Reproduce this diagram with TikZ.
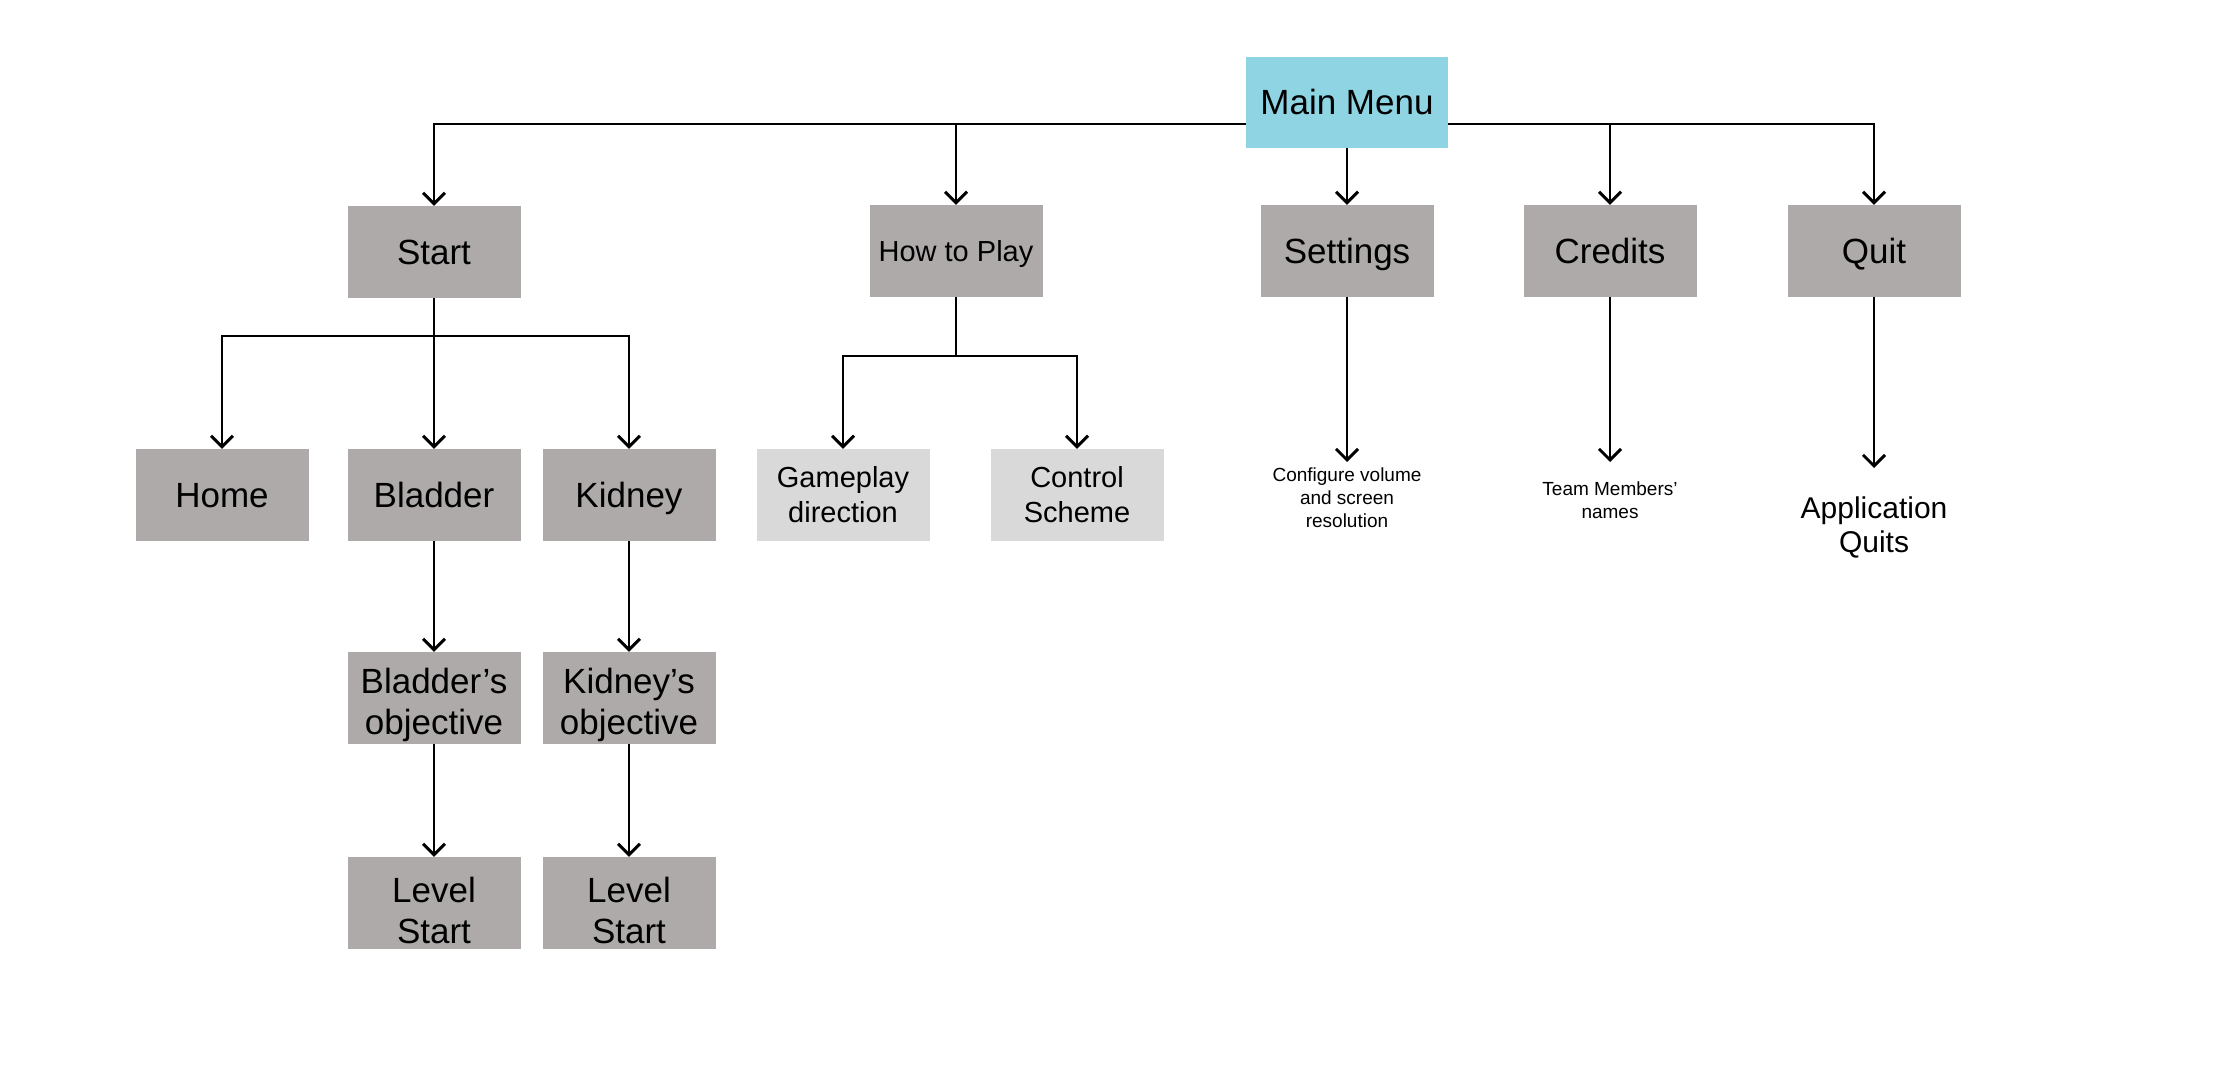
\documentclass[tikz,border=0pt]{standalone}
\usepackage{fontspec}
\setmainfont{Liberation Sans}
\usetikzlibrary{arrows.meta}
\definecolor{menucyan}{HTML}{8FD4E2}
\definecolor{boxgray}{HTML}{AEAAAA}
\definecolor{boxlight}{HTML}{D9D9D9}
\newcommand\firstlinestrut{\rule{0pt}{40pt}}
\begin{document}
\begin{tikzpicture}[x=1pt,y=-1pt,
  box/.style={fill=boxgray, minimum width=173pt, minimum height=92pt, inner sep=0pt,
    align=center, font=\fontsize{35}{41}\selectfont},
  oneline/.style={text height=25pt, text depth=0pt},
  boxsmall/.style={box, font=\fontsize{29}{35}\selectfont, text height=21pt, text depth=0pt},
  lightbox/.style={box, fill=boxlight, font=\fontsize{29}{35}\selectfont},
  menubox/.style={box, oneline, fill=menucyan, minimum width=202pt, minimum height=91pt},
  desc/.style={inner sep=0pt, align=center, font=\fontsize{19}{23}\selectfont},
  descbig/.style={inner sep=0pt, align=center, font=\fontsize{30}{34}\selectfont},
  ln/.style={line width=2.9pt},
  arr/.style={line width=2.9pt, -{Straight Barb[length=11pt,width=22pt]}}
]
\useasboundingbox (0,0) rectangle (2230,1080);

% nodes
\node[menubox] (main) at (1347,102) {Main Menu};
\node[box, oneline] (start) at (434,252) {Start};
\node[boxsmall] (howto) at (956,251) {How to Play};
\node[box, oneline] (settings) at (1347,251) {Settings};
\node[box, oneline] (credits) at (1610,251) {Credits};
\node[box, oneline] (quit) at (1874,251) {Quit};

\node[box, oneline] (home) at (222,495) {Home};
\node[box, oneline] (bladder) at (434,495) {Bladder};
\node[box, oneline] (kidney) at (629,495) {Kidney};
\node[box] (bobj) at (434,698) {\firstlinestrut Bladder’s\\objective};
\node[box] (kobj) at (629,698) {\firstlinestrut Kidney’s\\objective};
\node[box] (blevel) at (434,903) {\firstlinestrut Level\\Start};
\node[box] (klevel) at (629,903) {\firstlinestrut Level\\Start};

\node[lightbox] (gameplay) at (843,495) {Gameplay\\direction};
\node[lightbox] (control) at (1077,495) {Control\\Scheme};

\node[desc] (setdesc) at (1347,498) {Configure volume\\and screen\\resolution};
\node[desc] (creddesc) at (1610,500) {Team Members’\\names};
\node[descbig] (quitdesc) at (1874,527) {Application\\Quits};

% bus coordinates and free ends
\coordinate (bus) at (1347,124);
\coordinate (sbus) at (434,336);
\coordinate (hbus) at (956,356);
\coordinate (setend) at (1347,462);
\coordinate (credend) at (1610,462);
\coordinate (quitend) at (1874,468);

% top level connectors
\draw[arr] (main.west |- bus) -| (start.north);
\draw[arr] (main.east |- bus) -| (quit.north);
\draw[arr] (howto.north |- bus) -- (howto.north);
\draw[arr] (credits.north |- bus) -- (credits.north);
\draw[arr] (main.south) -- (settings.north);

% Start subtree
\draw[ln] (start.south) -- (sbus);
\draw[arr] (sbus) -| (home.north);
\draw[arr] (sbus) -| (kidney.north);
\draw[arr] (sbus) -- (bladder.north);
\draw[arr] (bladder.south) -- (bobj.north);
\draw[arr] (kidney.south) -- (kobj.north);
\draw[arr] (bobj.south) -- (blevel.north);
\draw[arr] (kobj.south) -- (klevel.north);

% How to play subtree
\draw[ln] (howto.south) -- (hbus);
\draw[arr] (hbus) -| (gameplay.north);
\draw[arr] (hbus) -| (control.north);

% descriptions
\draw[arr] (settings.south) -- (setend);
\draw[arr] (credits.south) -- (credend);
\draw[arr] (quit.south) -- (quitend);
\end{tikzpicture}
\end{document}
